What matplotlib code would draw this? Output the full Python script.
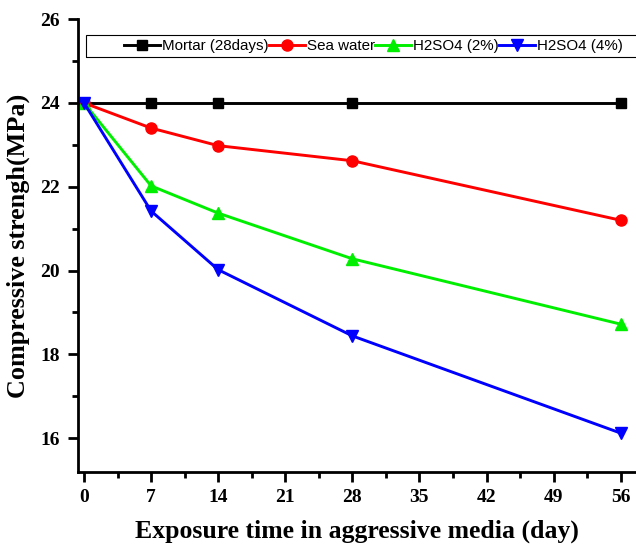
import matplotlib
matplotlib.use("Agg")
import matplotlib.pyplot as plt
from matplotlib.patches import Rectangle

days = [0, 7, 14, 28, 56]
mortar = [24, 24, 24, 24, 24]
sea_water = [24, 23.4, 22.98, 22.62, 21.2]
h2so4_2 = [24, 22.02, 21.37, 20.28, 18.72]
h2so4_4 = [24, 21.42, 20.02, 18.44, 16.12]
xticks = [0, 7, 14, 21, 28, 35, 42, 49, 56]
yticks = [16, 18, 20, 22, 24, 26]

fig = plt.figure(figsize=(6.36, 5.47), dpi=100)
ax = fig.add_axes([0.1226, 0.137, 0.8774, 0.828])

lw = 2.1
ax.plot(days, mortar, color='black', marker='s', ms=7, lw=lw, label='Mortar (28days)')
ax.plot(days, sea_water, color='#ff0000', marker='o', ms=8, lw=lw, label='Sea water')
ax.plot(days, h2so4_2, color='#00ee00', marker='^', ms=8.5, lw=lw, label='H2SO4 (2%)')
ax.plot(days, h2so4_4, color='#0000ff', marker='v', ms=8.5, lw=lw, label='H2SO4 (4%)')

ax.set_xlim(-0.63, 57.6)
ax.set_ylim(15.19, 26)
ax.set_xticks(xticks)
ax.set_yticks(yticks)
ax.set_xticks([x + 3.5 for x in xticks[:-1]], minor=True)
ax.set_yticks([y + 1 for y in yticks[:-1]], minor=True)

for s in ['top', 'right']:
    ax.spines[s].set_visible(False)
for s in ['left', 'bottom']:
    ax.spines[s].set_linewidth(2.0)

ax.tick_params(which='major', direction='out', length=7, width=2.0)
ax.tick_params(axis='x', which='major', pad=5)
ax.tick_params(axis='y', which='major', pad=6)
ax.tick_params(which='minor', direction='out', length=4, width=2.0)
for lab in ax.get_xticklabels() + ax.get_yticklabels():
    lab.set_fontfamily('Liberation Serif')
    lab.set_fontweight('bold')
    lab.set_fontsize(14)

ax.set_xlabel('Exposure time in aggressive media (day)', fontfamily='Liberation Serif',
              fontweight='bold', fontsize=18.5, labelpad=10)
ax.set_ylabel('Compressive strengh(MPa)', fontfamily='Liberation Serif',
              fontweight='bold', fontsize=18.8, labelpad=7)

ax.add_patch(Rectangle((0.0143, 0.916), 1.0, 0.049, transform=ax.transAxes,
                       fill=False, edgecolor='black', lw=0.8, clip_on=False))
leg = ax.legend(loc='center', bbox_to_anchor=(0.529, 0.940), ncol=4, frameon=False,
                prop={'family': 'Liberation Sans', 'size': 10.9},
                handlelength=2.4, handletextpad=0.12, columnspacing=0.0,
                borderpad=0.1, borderaxespad=0)

fig.savefig('out.png', dpi=100)
